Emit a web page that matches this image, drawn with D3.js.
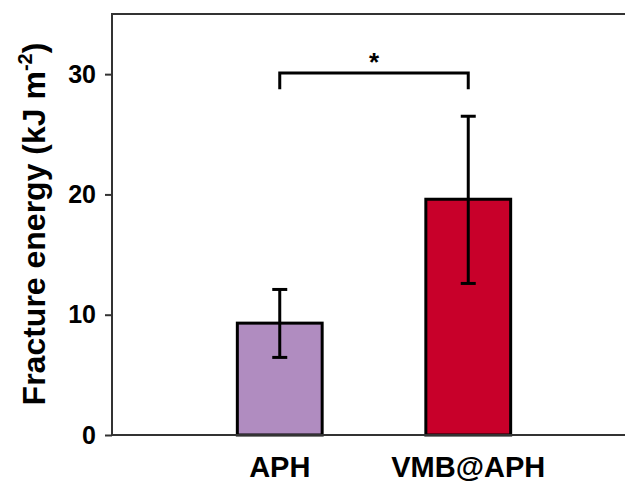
<!DOCTYPE html>
<html>
<head>
<meta charset="utf-8">
<script src="https://cdn.jsdelivr.net/npm/d3@7"></script>
<style>
  body { margin: 0; background: #fff; }
  text { font-family: "Liberation Sans", Arial, sans-serif; font-weight: bold; }
</style>
</head>
<body>
<svg id="chart"></svg>
<script>
// values
const groups = ["APH", "VMB@APH"];
const means = [9.3, 19.6];
const errLow = [6.45, 12.6];
const errHigh = [12.1, 26.5];
const barColors = ["#b08cc0", "#c8002a"];
const yTicks = [0, 10, 20, 30];
// significance bracket: top and leg ends (y units)
const bracketTop = 30.1;
const bracketLeg = 28.75;

const width = 625, height = 486;
const margin = {top: 14, right: -2, bottom: 51, left: 112};

const svg = d3.select("#chart")
  .attr("width", width)
  .attr("height", height);

const innerW = width - margin.left - margin.right;
const innerH = height - margin.top - margin.bottom;

const chart = svg.append("g")
  .attr("transform", `translate(${margin.left}, ${margin.top})`);

const yscale = d3.scaleLinear().domain([0, 35]).range([innerH, 0]);
const xscale = d3.scaleBand().domain(groups)
  .range([185.5 - margin.left, 562.5 - margin.left])
  .paddingInner(0.55).paddingOuter(0.275);

// bars
chart.selectAll(".bar")
  .data(groups)
  .join("rect")
  .attr("class", "bar")
  .attr("x", d => xscale(d))
  .attr("y", (d, i) => yscale(means[i]))
  .attr("width", xscale.bandwidth())
  .attr("height", (d, i) => yscale(0) - yscale(means[i]))
  .attr("fill", (d, i) => barColors[i])
  .attr("stroke", "#000")
  .attr("stroke-width", 3);

// error bars
const cx = d => xscale(d) + xscale.bandwidth() / 2;
const capW = 7.5;
const err = chart.selectAll(".err").data(groups).join("g").attr("class", "err")
  .attr("stroke", "#000").attr("stroke-width", 3);
err.append("line")
  .attr("x1", cx).attr("x2", cx)
  .attr("y1", (d, i) => yscale(errLow[i]))
  .attr("y2", (d, i) => yscale(errHigh[i]));
err.append("line")
  .attr("x1", d => cx(d) - capW).attr("x2", d => cx(d) + capW)
  .attr("y1", (d, i) => yscale(errHigh[i]))
  .attr("y2", (d, i) => yscale(errHigh[i]));
err.append("line")
  .attr("x1", d => cx(d) - capW).attr("x2", d => cx(d) + capW)
  .attr("y1", (d, i) => yscale(errLow[i]))
  .attr("y2", (d, i) => yscale(errLow[i]));

// frame
chart.append("rect")
  .attr("x", 0).attr("y", 0)
  .attr("width", innerW).attr("height", innerH)
  .attr("fill", "none")
  .attr("stroke", "#333")
  .attr("stroke-width", 2);

// y axis
const yaxis = d3.axisLeft(yscale).tickValues(yTicks).tickSize(7).tickSizeOuter(0).tickPadding(9);
const yg = chart.append("g").call(yaxis);
yg.select(".domain").remove();
yg.selectAll(".tick line").attr("stroke", "#333").attr("stroke-width", 2);
yg.selectAll(".tick text")
  .attr("fill", "#000")
  .style("font-size", "25px")
  .style("font-family", "'Liberation Sans', Arial, sans-serif")
  .style("font-weight", "bold");

// x axis labels
const xaxis = d3.axisBottom(xscale).tickSize(0).tickPadding(21);
const xg = chart.append("g").attr("transform", `translate(0, ${innerH})`).call(xaxis);
xg.select(".domain").remove();
xg.selectAll(".tick text")
  .attr("fill", "#000")
  .style("font-size", "29px")
  .style("font-family", "'Liberation Sans', Arial, sans-serif")
  .style("font-weight", "bold");

// significance bracket
const bx1 = cx(groups[0]), bx2 = cx(groups[1]);
chart.append("path")
  .attr("d", `M${bx1},${yscale(bracketLeg)}V${yscale(bracketTop)}H${bx2}V${yscale(bracketLeg)}`)
  .attr("fill", "none")
  .attr("stroke", "#000")
  .attr("stroke-width", 3);
chart.append("text")
  .attr("x", (bx1 + bx2) / 2)
  .attr("y", yscale(bracketTop) - 2)
  .attr("text-anchor", "middle")
  .style("font-size", "26px")
  .text("*");

// y axis title
const ytitle = svg.append("text")
  .attr("transform", `translate(45, 224) rotate(-90)`)
  .attr("text-anchor", "middle")
  .style("font-size", "32px");
ytitle.append("tspan").text("Fracture energy (kJ m");
ytitle.append("tspan").attr("dy", -13).style("font-size", "20px").text("-2");
ytitle.append("tspan").attr("dy", 13).text(")");
</script>
</body>
</html>
